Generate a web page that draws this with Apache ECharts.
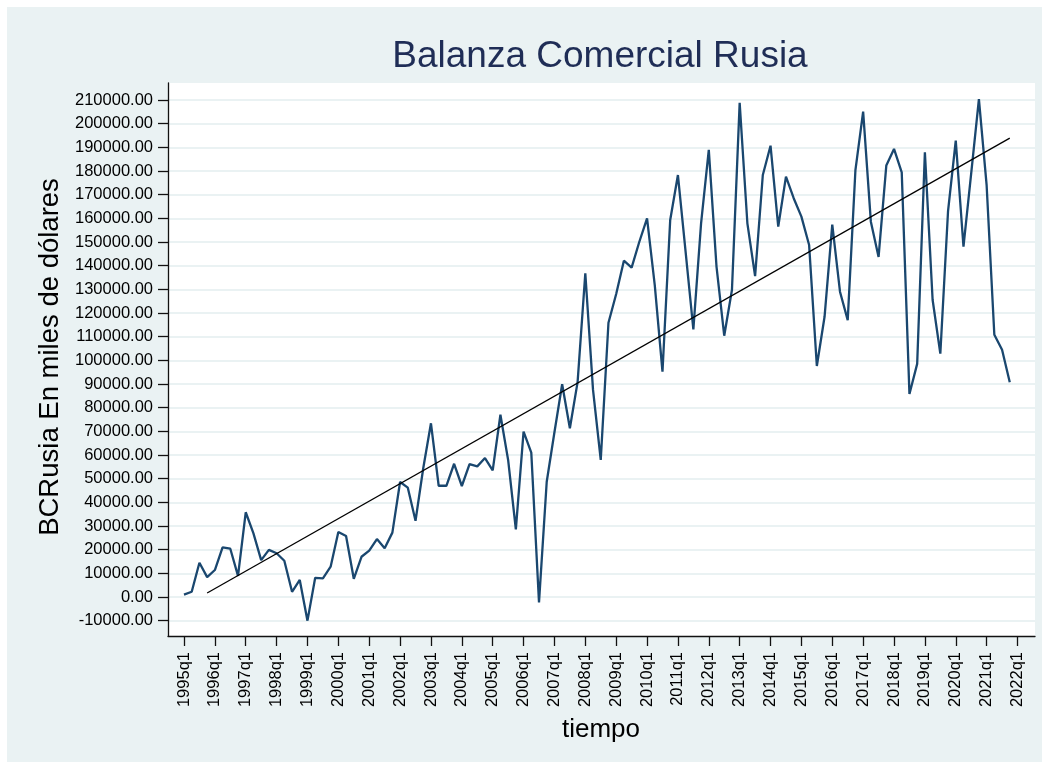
<!DOCTYPE html>
<html>
<head>
<meta charset="utf-8">
<script src="https://cdn.jsdelivr.net/npm/echarts@6/dist/echarts.min.js"></script>
<style>
html,body{margin:0;padding:0;background:#ffffff;}
#c{width:1049px;height:769px;}
</style>
</head>
<body>
<div id="c"></div>
<script>
// ---------------- data ----------------
const startYear = 1995;           // first quarter is 1995q1
// BCRusia (miles de dólares), quarterly 1995q1 .. 2021q4
const bcRusia = [
  1000, 2200, 14500, 8400,          // 1995
  11400, 21000, 20400, 8900,        // 1996
  35800, 26900, 15600, 19900,       // 1997
  18500, 15300, 2200, 7200,         // 1998
  -10000, 8100, 7900, 12800,        // 1999
  27500, 25800, 7700, 17000,        // 2000
  19600, 24500, 20600, 27200,       // 2001
  48600, 46200, 32200, 54400,       // 2002
  73400, 47000, 47000, 56300,       // 2003
  46900, 56100, 55200, 58700,       // 2004
  53500, 77000, 57900, 28600,       // 2005
  69900, 61000, -2300, 48700,       // 2006
  69600, 89900, 71300, 90800,       // 2007
  136800, 87500, 57900, 115900,     // 2008
  128000, 142100, 139200, 150100,   // 2009
  160000, 131800, 95200, 159300,    // 2010
  178300, 145700, 113100, 157900,   // 2011
  188900, 139600, 110400, 129700,   // 2012
  208800, 157900, 135600, 178300,   // 2013
  190700, 156500, 177600, 168500,   // 2014
  160700, 148700, 97600, 118400,    // 2015
  157300, 129000, 117000, 180400,   // 2016
  205100, 158600, 143700, 182300,   // 2017
  189300, 179400, 85800, 98500,     // 2018
  187900, 125600, 102800, 163000,   // 2019
  192800, 148000, 179000, 210400,   // 2020
  174000, 110800, 104500, 90700     // 2021
];
// linear trend line endpoints [year, quarter, value]
const trendStart = [1995, 4, 1700];
const trendEnd = [2021, 4, 193900];
// tick labels
const xTickYears = [1995,1996,1997,1998,1999,2000,2001,2002,2003,2004,2005,2006,2007,2008,
  2009,2010,2011,2012,2013,2014,2015,2016,2017,2018,2019,2020,2021,2022];
const yTicks = [-10000,0,10000,20000,30000,40000,50000,60000,70000,80000,90000,100000,
  110000,120000,130000,140000,150000,160000,170000,180000,190000,200000,210000];

const titleText = 'Balanza Comercial Rusia';
const yTitle = 'BCRusia En miles de dólares';
const xTitle = 'tiempo';

// ---------------- chart ----------------
const FONT = '"Liberation Sans", Arial, Helvetica, sans-serif';
const qx = (y, q) => y + (q - 1) / 4;
const lineData = bcRusia.map((v, i) => [startYear + i / 4, v]);
const trendData = [[qx(trendStart[0], trendStart[1]), trendStart[2]],
                   [qx(trendEnd[0], trendEnd[1]), trendEnd[2]]];

const chart = echarts.init(document.getElementById('c'), null, {renderer: 'canvas'});
const option = {
  animation: false,
  backgroundColor: '#EAF2F3',
  grid: {left: 168, top: 83, width: 867, height: 553, show: true,
         backgroundColor: '#ffffff', borderWidth: 0, containLabel: false},
  xAxis: {
    type: 'value', min: 1994.482, max: 2022.567,
    axisLine: {show: true, onZero: false, lineStyle: {color: '#111', width: 1.3}},
    axisTick: {show: true, length: 10, customValues: xTickYears,
               lineStyle: {color: '#111', width: 1.3}},
    axisLabel: {show: true, customValues: xTickYears, rotate: 90, margin: 16,
                formatter: v => v + 'q1', color: '#000', fontSize: 16.5, fontFamily: FONT},
    splitLine: {show: false}
  },
  yAxis: {
    type: 'value', min: -16480, max: 217180,
    axisLine: {show: true, onZero: false, lineStyle: {color: '#111', width: 1.3}},
    axisTick: {show: true, length: 10, customValues: yTicks,
               lineStyle: {color: '#111', width: 1.3}},
    axisLabel: {show: true, customValues: yTicks, margin: 15,
                formatter: v => Number(v).toFixed(2), color: '#000', fontSize: 16.5, fontFamily: FONT},
    splitLine: {show: true, lineStyle: {color: '#EAF2F3', width: 2}}
  },
  series: [
    {type: 'line', data: lineData, symbol: 'none', z: 3,
     lineStyle: {color: '#1A476F', width: 2.3}},
    {type: 'line', data: trendData, symbol: 'none', z: 4,
     lineStyle: {color: '#000000', width: 1.3}}
  ],
  graphic: [
    {type: 'rect', silent: true, z: 100,
     shape: {x: 0, y: 0, width: 1049, height: 769},
     style: {fill: null, stroke: '#ffffff', lineWidth: 14}},
    {type: 'text', silent: true, x: 600, y: 57,
     style: {text: titleText, textAlign: 'center', textVerticalAlign: 'middle',
             font: '37px ' + FONT, fill: '#1F2D56'}},
    {type: 'text', silent: true, x: 50, y: 357, rotation: Math.PI / 2,
     style: {text: yTitle, textAlign: 'center', textVerticalAlign: 'middle',
             font: '27.5px ' + FONT, fill: '#000'}},
    {type: 'text', silent: true, x: 601, y: 730,
     style: {text: xTitle, textAlign: 'center', textVerticalAlign: 'middle',
             font: '26px ' + FONT, fill: '#000'}}
  ]
};
chart.setOption(option);
</script>
</body>
</html>
